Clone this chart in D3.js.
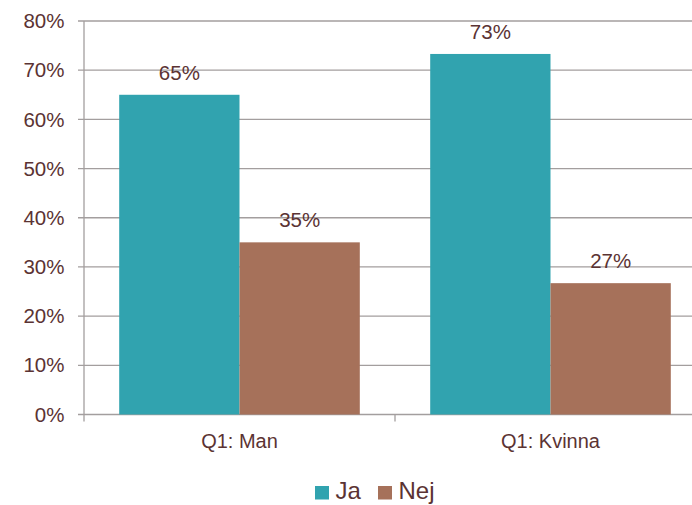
<!DOCTYPE html>
<html>
<head>
<meta charset="utf-8">
<script src="https://cdn.jsdelivr.net/npm/d3@7"></script>
<style>
  body { margin: 0; background: #fff; }
  text { font-family: "Liberation Sans", Arial, sans-serif; fill: #5b3333; }
</style>
</head>
<body>
<div id="chart"></div>
<script>
// Data
var categories = ["Q1: Man", "Q1: Kvinna"];
var seriesNames = ["Ja", "Nej"];
var jaValues = [65, 73.3];
var nejValues = [35, 26.7];
var yTicks = [0, 10, 20, 30, 40, 50, 60, 70, 80];
var colors = ["#31a3af", "#a6715a"];

var svgWidth = 692;
var svgHeight = 505;
var margin = { top: 21, right: -14, bottom: 90.5, left: 84 };
var chartWidth = svgWidth - margin.left - margin.right;
var chartHeight = svgHeight - margin.top - margin.bottom;

var svg = d3.select("#chart")
  .append("svg")
  .attr("width", svgWidth)
  .attr("height", svgHeight);

var chartGroup = svg.append("g")
  .attr("transform", `translate(${margin.left}, ${margin.top})`);

var table = categories.map((c, i) => ({ cat: c, values: [jaValues[i], nejValues[i]] }));

var x0 = d3.scaleBand()
  .domain(categories)
  .range([0, chartWidth])
  .paddingInner(0)
  .paddingOuter(0);

var groupPad = 35.2;
var x1 = d3.scaleBand()
  .domain(seriesNames)
  .range([groupPad, x0.bandwidth() - groupPad]);

var y = d3.scaleLinear()
  .domain([0, 80])
  .range([chartHeight, 0]);

// gridlines
chartGroup.selectAll(".grid")
  .data(yTicks)
  .join("line")
  .attr("class", "grid")
  .attr("x1", -6)
  .attr("x2", chartWidth)
  .attr("y1", d => y(d))
  .attr("y2", d => y(d))
  .attr("stroke", "#a39e9e")
  .attr("stroke-width", 1.3);

// y axis line
chartGroup.append("line")
  .attr("x1", 0).attr("x2", 0)
  .attr("y1", 0).attr("y2", chartHeight)
  .attr("stroke", "#a39e9e")
  .attr("stroke-width", 1.3);

// y tick labels
chartGroup.selectAll(".ylab")
  .data(yTicks)
  .join("text")
  .attr("class", "ylab")
  .attr("x", -19.5)
  .attr("y", d => y(d))
  .attr("dy", "0.35em")
  .attr("text-anchor", "end")
  .attr("font-size", "20.5px")
  .text(d => d + "%");

// x category ticks
var xTickPos = [0, x0.bandwidth(), chartWidth];
chartGroup.selectAll(".xtick")
  .data(xTickPos)
  .join("line")
  .attr("class", "xtick")
  .attr("x1", d => d).attr("x2", d => d)
  .attr("y1", chartHeight).attr("y2", chartHeight + 7)
  .attr("stroke", "#a39e9e")
  .attr("stroke-width", 1.3);

// bars
var groups = chartGroup.selectAll(".group")
  .data(table)
  .join("g")
  .attr("class", "group")
  .attr("transform", d => `translate(${x0(d.cat)}, 0)`);

groups.selectAll("rect")
  .data(d => d.values.map((v, i) => ({ key: seriesNames[i], value: v, i: i })))
  .join("rect")
  .attr("x", d => x1(d.key))
  .attr("y", d => y(d.value))
  .attr("width", x1.bandwidth())
  .attr("height", d => chartHeight - y(d.value))
  .attr("fill", d => colors[d.i]);

groups.selectAll(".val")
  .data(d => d.values.map((v, i) => ({ key: seriesNames[i], value: v })))
  .join("text")
  .attr("class", "val")
  .attr("x", d => x1(d.key) + x1.bandwidth() / 2)
  .attr("y", d => y(d.value) - 15)
  .attr("text-anchor", "middle")
  .attr("font-size", "20.5px")
  .text(d => Math.round(d.value) + "%");

// category labels
chartGroup.selectAll(".xlab")
  .data(categories)
  .join("text")
  .attr("class", "xlab")
  .attr("x", d => x0(d) + x0.bandwidth() / 2)
  .attr("y", chartHeight + 33)
  .attr("text-anchor", "middle")
  .attr("font-size", "20px")
  .text(d => d);

// legend
var legendItems = [
  { name: seriesNames[0], color: colors[0], x: 315 },
  { name: seriesNames[1], color: colors[1], x: 378 }
];
var legend = svg.selectAll(".legend")
  .data(legendItems)
  .join("g")
  .attr("class", "legend")
  .attr("transform", d => `translate(${d.x}, 486)`);

legend.append("rect")
  .attr("width", 14)
  .attr("height", 13.5)
  .attr("fill", d => d.color);

legend.append("text")
  .attr("x", 20.5)
  .attr("y", 13.3)
  .attr("font-size", "24px")
  .text(d => d.name);
</script>
</body>
</html>
